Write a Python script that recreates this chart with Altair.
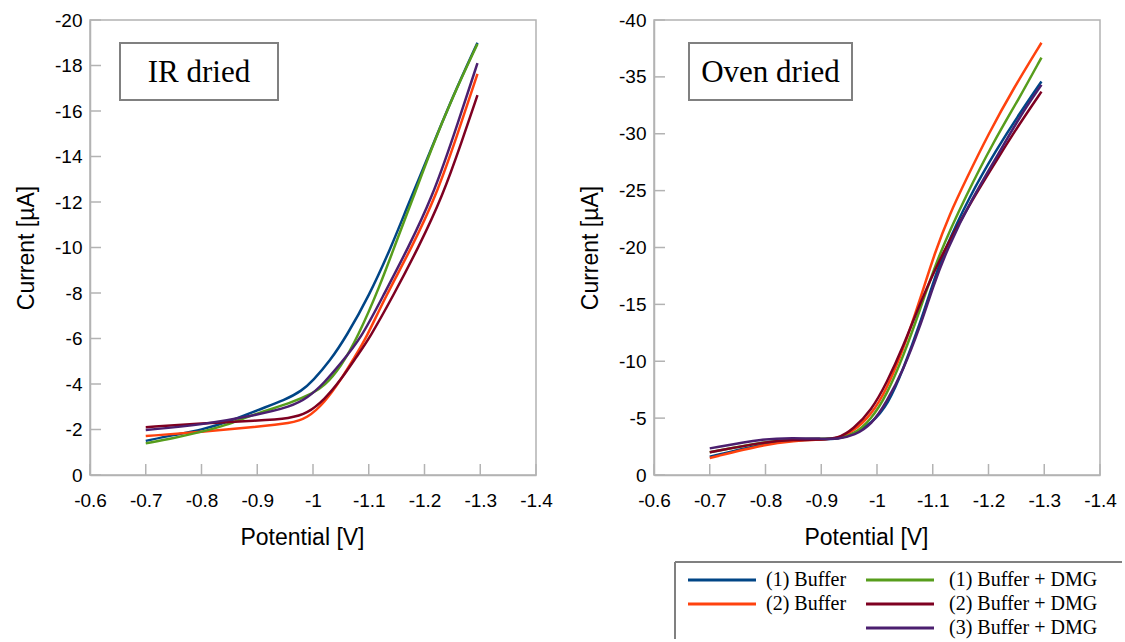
import altair as alt
import pandas as pd

SERIES = ["(1) Buffer", "(2) Buffer", "(1) Buffer + DMG", "(2) Buffer + DMG", "(3) Buffer + DMG"]
COLORS = ["#004586", "#ff420e", "#579d1c", "#7e0021", "#4b1f6f"]

X_TICKS = [-0.6, -0.7, -0.8, -0.9, -1.0, -1.1, -1.2, -1.3, -1.4]
IR_Y_TICKS = [0, -2, -4, -6, -8, -10, -12, -14, -16, -18, -20]
OVEN_Y_TICKS = [0, -5, -10, -15, -20, -25, -30, -35, -40]

# ---------------- IR dried ----------------
ir_b1_v = [-0.70, -0.75, -0.80, -0.85, -0.90, -0.95, -0.98, -1.00, -1.03, -1.06, -1.10, -1.14, -1.17, -1.21, -1.25, -1.295]
ir_b1_i = [-1.50, -1.76, -1.98, -2.35, -2.85, -3.30, -3.70, -4.15, -5.00, -6.10, -7.85, -10.0, -11.85, -14.2, -16.6, -19.0]

ir_b2_v = [-0.70, -0.80, -0.90, -0.96, -0.99, -1.02, -1.05, -1.075, -1.095, -1.13, -1.178, -1.22, -1.256, -1.295]
ir_b2_i = [-1.71, -1.90, -2.12, -2.27, -2.50, -3.16, -4.18, -5.20, -6.00, -7.84, -10.04, -12.23, -14.73, -17.63]

ir_d1_v = [-0.70, -0.75, -0.80, -0.84, -0.90, -0.96, -1.00, -1.02, -1.05, -1.08, -1.12, -1.15, -1.18, -1.21, -1.25, -1.295]
ir_d1_i = [-1.39, -1.62, -1.90, -2.15, -2.72, -3.16, -3.60, -3.90, -4.75, -6.05, -8.30, -10.3, -12.2, -14.2, -16.6, -18.95]

ir_d2_v = [-0.70, -0.80, -0.90, -0.96, -0.99, -1.02, -1.05, -1.08, -1.101, -1.143, -1.19, -1.232, -1.268, -1.295]
ir_d2_i = [-2.10, -2.27, -2.39, -2.49, -2.71, -3.30, -4.18, -5.27, -6.00, -7.84, -10.04, -12.23, -14.73, -16.70]

ir_d3_v = [-0.70, -0.80, -0.90, -0.96, -0.99, -1.02, -1.05, -1.086, -1.125, -1.172, -1.214, -1.25, -1.295]
ir_d3_i = [-1.98, -2.20, -2.64, -3.00, -3.38, -4.04, -4.92, -6.00, -7.84, -10.04, -12.23, -14.73, -18.10]

# ---------------- Oven dried ----------------
ov_b1_v = [-0.70, -0.80, -0.85, -0.90, -0.93, -0.96, -0.99, -1.02, -1.047, -1.077, -1.10, -1.121, -1.166, -1.214, -1.256, -1.295]
ov_b1_i = [-1.60, -2.78, -3.08, -3.13, -3.15, -3.66, -4.54, -6.20, -9.30, -13.3, -16.8, -19.8, -24.5, -28.6, -31.8, -34.6]

ov_b2_v = [-0.70, -0.80, -0.85, -0.90, -0.93, -0.957, -0.99, -1.017, -1.047, -1.077, -1.104, -1.13, -1.16, -1.20, -1.245, -1.295]
ov_b2_i = [-1.50, -2.70, -3.00, -3.13, -3.20, -3.80, -5.30, -7.50, -11.0, -15.4, -19.6, -22.9, -26.0, -30.0, -34.0, -38.0]

ov_d1_v = [-0.70, -0.80, -0.85, -0.90, -0.93, -0.957, -0.99, -1.017, -1.047, -1.077, -1.11, -1.16, -1.208, -1.256, -1.295]
ov_d1_i = [-2.00, -2.93, -3.15, -3.20, -3.20, -3.50, -4.90, -7.00, -10.4, -14.5, -19.3, -24.6, -29.2, -33.2, -36.7]

ov_d2_v = [-0.70, -0.80, -0.85, -0.90, -0.93, -0.957, -0.99, -1.017, -1.047, -1.077, -1.118, -1.172, -1.22, -1.256, -1.295]
ov_d2_i = [-2.00, -2.93, -3.10, -3.10, -3.20, -4.00, -5.70, -8.06, -11.28, -15.1, -19.6, -24.3, -28.1, -30.9, -33.7]

ov_d3_v = [-0.70, -0.80, -0.85, -0.90, -0.93, -0.96, -0.99, -1.017, -1.047, -1.077, -1.10, -1.125, -1.17, -1.22, -1.256, -1.295]
ov_d3_i = [-2.34, -3.22, -3.25, -3.20, -3.15, -3.50, -4.40, -6.40, -9.20, -13.0, -16.5, -19.78, -24.3, -28.4, -31.5, -34.3]


def make_df(pairs):
    rows = []
    for k, (vs, cs) in enumerate(pairs):
        for v, c in zip(vs, cs):
            rows.append({"potential": v, "current": c, "series": SERIES[k]})
    return pd.DataFrame(rows)


ir_df = make_df([(ir_b1_v, ir_b1_i), (ir_b2_v, ir_b2_i), (ir_d1_v, ir_d1_i), (ir_d2_v, ir_d2_i), (ir_d3_v, ir_d3_i)])
ov_df = make_df([(ov_b1_v, ov_b1_i), (ov_b2_v, ov_b2_i), (ov_d1_v, ov_d1_i), (ov_d2_v, ov_d2_i), (ov_d3_v, ov_d3_i)])

W, H = 446, 455
GRAY = "#b3b3b3"
LABEL_EXPR = "'' + datum.value"


def panel(df, yticks, ydom, label, box_x, box_w, with_legend=False):
    xs = alt.Scale(domain=[-1.4, -0.6], reverse=True, nice=False, zero=False)
    ys = alt.Scale(domain=ydom, reverse=True, nice=False, zero=False)
    xaxis = alt.Axis(values=X_TICKS, title="Potential [V]", labelExpr=LABEL_EXPR, titleX=212,
                     labelFlush=False, labelOverlap=False)
    yaxis = alt.Axis(values=yticks, title="Current [µA]", labelExpr=LABEL_EXPR, labelOverlap=False)

    lines = alt.Chart(df).mark_line(strokeWidth=2.5, interpolate="basis").encode(
        x=alt.X("potential:Q", scale=xs, axis=xaxis),
        y=alt.Y("current:Q", scale=ys, axis=yaxis),
        color=alt.Color("series:N", scale=alt.Scale(domain=SERIES, range=COLORS), legend=None),
        order=alt.Order("potential:Q"),
    )
    xt = alt.Chart(pd.DataFrame({"potential": X_TICKS})).mark_rule(color=GRAY, strokeWidth=1.5).encode(
        x=alt.X("potential:Q", scale=xs, axis=xaxis), y=alt.value(H), y2=alt.value(H - 11)
    )
    yt = alt.Chart(pd.DataFrame({"current": yticks})).mark_rule(color=GRAY, strokeWidth=1.5).encode(
        y=alt.Y("current:Q", scale=ys, axis=yaxis), x=alt.value(0), x2=alt.value(11)
    )
    lab = pd.DataFrame({"label": [label]})
    box = alt.Chart(lab).mark_rect(fill="white", stroke="#808080", strokeWidth=2).encode(
        x=alt.value(box_x), x2=alt.value(box_x + box_w), y=alt.value(23), y2=alt.value(80)
    )
    txt = alt.Chart(lab).mark_text(font="Liberation Serif", fontSize=31, color="black", baseline="middle", align="center").encode(
        text="label:N", x=alt.value(box_x + box_w / 2), y=alt.value(53)
    )
    layers = [yt, xt, lines, box, txt]

    if with_legend:
        edge = pd.DataFrame({"a": [0]})
        layers.append(alt.Chart(edge).mark_rule(color="#808080", strokeWidth=2).encode(
            x=alt.value(21), x2=alt.value(468), y=alt.value(542)))
        layers.append(alt.Chart(edge).mark_rule(color="#808080", strokeWidth=2).encode(
            x=alt.value(21), y=alt.value(542), y2=alt.value(619)))
        slots = [(34, 112, 560), (34, 112, 584), (212, 295, 560), (212, 295, 584), (212, 295, 608)]
        for k, (lx, tx, ly) in enumerate(slots):
            item = pd.DataFrame({"name": [SERIES[k]]})
            layers.append(alt.Chart(item).mark_rule(color=COLORS[k], strokeWidth=3).encode(
                x=alt.value(lx), x2=alt.value(lx + 68), y=alt.value(ly)))
            layers.append(alt.Chart(item).mark_text(font="Liberation Serif", fontSize=20, color="black",
                                                    align="left", baseline="middle").encode(
                text="name:N", x=alt.value(tx), y=alt.value(ly)))

    return alt.layer(*layers).properties(width=W, height=H)


left = panel(ir_df, IR_Y_TICKS, [-20, 0], "IR dried", 30, 158)
right = panel(ov_df, OVEN_Y_TICKS, [-40, 0], "Oven dried", 35, 163, with_legend=True)

chart = alt.hconcat(left, right, spacing=118, bounds="flush").properties(
    padding={"left": 14, "top": 10, "right": 0, "bottom": 0}
).configure_view(stroke=GRAY, strokeWidth=1.5).configure_axis(
    domainColor=GRAY, domainWidth=1.5, grid=False, ticks=False,
    labelFont="Liberation Sans", labelFontSize=19, labelColor="black",
    titleFont="Liberation Sans", titleFontSize=23, titleFontWeight="normal", titleColor="black",
).configure_axisX(labelPadding=16, titlePadding=16).configure_axisY(labelPadding=8, titlePadding=16)

chart.save("out.html", embed_options={"renderer": "svg", "actions": False})
